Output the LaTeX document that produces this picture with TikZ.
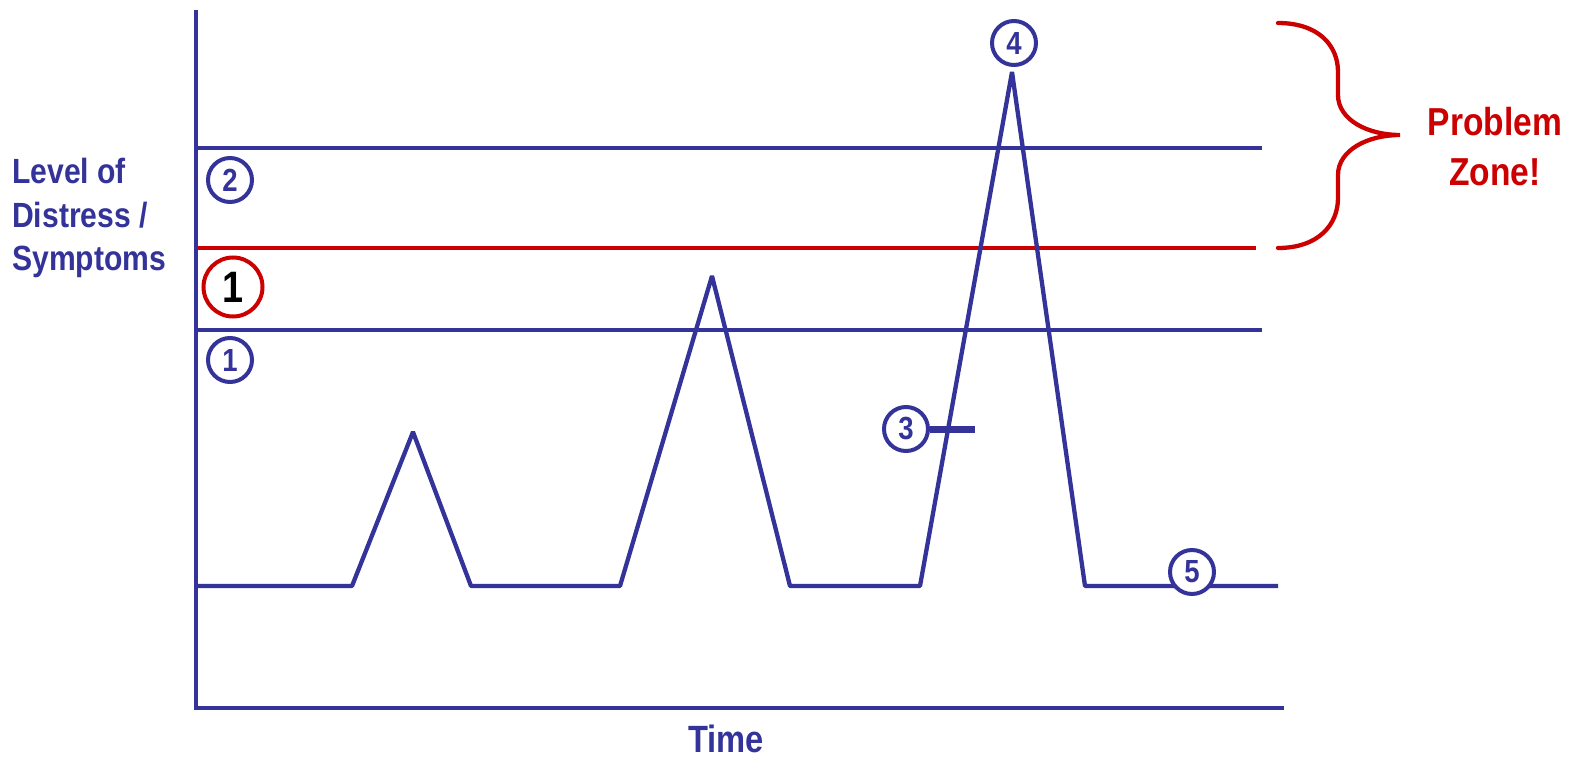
\documentclass[tikz,border=0pt]{standalone}
\usepackage{fontspec}
\setmainfont{Liberation Sans}[FakeStretch=0.86,BoldFont={Liberation Sans Bold},BoldFeatures={FakeStretch=0.86}]
\definecolor{navy}{RGB}{51,51,153}
\definecolor{zred}{RGB}{204,0,0}
\begin{document}
\begin{tikzpicture}[x=1pt,y=-1pt,
  bline/.style={draw=navy,line width=4.3pt},
  rline/.style={draw=zred,line width=4.3pt},
  num/.style={circle,draw=navy,line width=4pt,minimum size=44pt,inner sep=0pt,text=navy,font=\bfseries\fontsize{32}{32}\selectfont},
  lab/.style={text=navy,font=\bfseries\fontsize{35}{44}\selectfont,inner sep=0pt}]
\useasboundingbox (0,0) rectangle (1569,760);
% axes
\coordinate (ytop) at (196,12);
\coordinate (orig) at (196,708);
\coordinate (xend) at (1282,708);
\draw[bline,line cap=rect] (ytop) -- (orig) -- (xend);
% horizontal levels
\draw[bline] (198,148) -- (1262,148);
\draw[rline] (198,248) -- (1256,248);
\draw[bline] (198,330) -- (1262,330);
% curve
\draw[bline,line join=bevel] (198,586) -- (352,586) -- (413,432) -- (471,586) -- (620,586) -- (712,276) -- (790,586) -- (920,586) -- (1012,72) -- (1085,586) -- (1278,586);
% markers
\node[num] (c2) at (230,180) {2};
\node[circle,draw=zred,line width=4pt,minimum size=59pt,inner sep=0pt,font=\bfseries\fontsize{44}{44}\selectfont] (r1) at (233,287) {1};
\node[num] (c1) at (230,360) {1};
\node[num,fill=white] (c4) at (1014,43) {4};
\node[num] (c3) at (906,429) {3};
\coordinate (t3) at (975,429);
\draw[draw=navy,line width=7pt] (c3.east) -- (t3);
\node[num,fill=white] (c5) at (1192,572) {5};
% brace
\draw[rline,line cap=round] (1278,23) .. controls (1318,23) and (1338,45) .. (1338,72) -- (1338,95) .. controls (1338,120) and (1368,135) .. (1400,135) .. controls (1368,135) and (1338,150) .. (1338,175) -- (1338,198) .. controls (1338,225) and (1318,248) .. (1278,248);
% texts
\node[lab,anchor=base west] (l1) at (12,183) {Level of};
\node[lab,anchor=base west] (l2) at (12,227) {Distress /};
\node[lab,anchor=base west] (l3) at (12,270) {Symptoms};
\node[lab,font=\bfseries\fontsize{38}{38}\selectfont,anchor=base] (time) at (726,752) {Time};
\node[lab,text=zred,font=\bfseries\fontsize{39}{50}\selectfont,anchor=base] (p1) at (1495,135) {Problem};
\node[lab,text=zred,font=\bfseries\fontsize{39}{50}\selectfont,anchor=base] (p2) at (1495,185) {Zone!};
\end{tikzpicture}
\end{document}
